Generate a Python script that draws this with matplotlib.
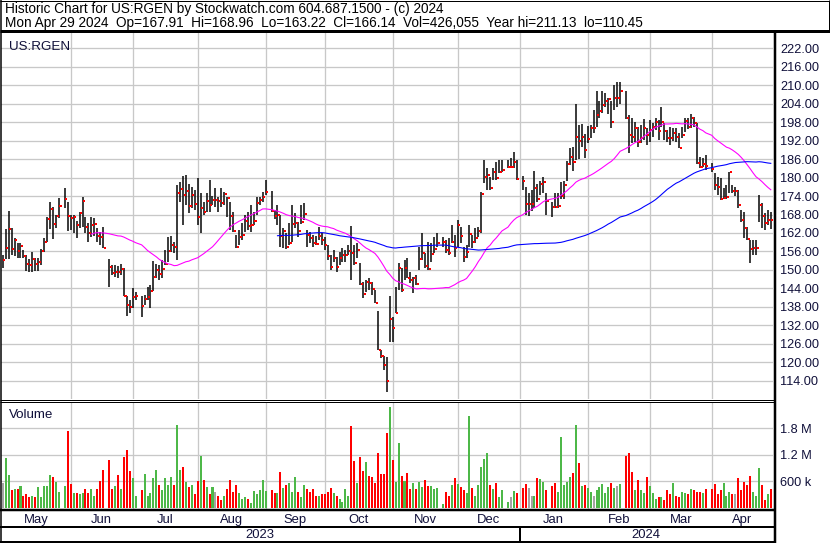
import numpy as np
import pandas as pd
import matplotlib
matplotlib.use("Agg")
import matplotlib.pyplot as plt

W, H = 830, 543

START = "2023-05-01"
END = "2024-04-29"
holidays = ["2023-05-29", "2023-06-19", "2023-07-04", "2023-09-04", "2023-11-23",
            "2023-12-25", "2024-01-01", "2024-01-15", "2024-02-19", "2024-03-29"]

highs = [
    # May
    155, 163.3, 169.1, 163.7, 160.5, 158.6, 158.6, 156.5, 155, 153.6,
    155.9, 153.8, 154, 156.8, 160.5, 167.3, 172, 170.5, 168, 173.3, 176.5, 172,
    # Jun
    167.8, 167.8, 165.9, 168.9, 173.8, 167.3, 165.1, 167.3, 166.8, 163.5,
    162.4, 164.1, 153.4, 151.6, 151.6, 151.4, 152, 150.5, 141.6, 140.2, 144,
    # Jul
    142.9, 141.6, 141.8, 144.6, 145.1, 153, 151.8, 151.6, 153.2, 156.5,
    160.8, 161.1, 159, 177.6, 178.7, 180.5, 180.8, 178, 177, 176,
    # Aug
    179.8, 174.9, 172.2, 174.9, 179.2, 174, 176.5, 173.8, 176.5, 175.2,
    173.8, 172.2, 168.9, 161.3, 163, 165.1, 167.8, 168.9, 171.1, 168.9, 173.8, 173.8, 175.4,
    # Sep
    179.2, 175.7, 169.5, 171.1, 167.8, 163.5, 161.9, 165.4, 171.1, 168.4,
    165.7, 171.1, 171.6, 163, 162.4, 161.3, 161, 164, 161.9, 160.8,
    # Oct
    158.1, 154.8, 156.5, 154.3, 155.9, 157, 156.5, 158.1, 164.3, 158.1,
    158.6, 152.1, 146.2, 146.7, 147.3, 146.2, 143.5, 136.6, 124, 122.1, 121.8, 141.6,
    # Nov
    134.8, 144.6, 152.1, 150.5, 153.2, 153.8, 149.4, 147.8, 148.4, 157.5,
    161.9, 155.4, 159.2, 158.6, 160.8, 161.9, 160.8, 159.7, 160.5, 164.6, 161.3,
    # Dec
    166.2, 164, 157.5, 158.1, 164.6, 161.3, 163.5, 164, 175.4, 185.7,
    183, 180.3, 183, 185.2, 185.7, 185.7, 185.7, 186.2, 188.4, 185.7,
    # Jan
    180.5, 177, 175, 176, 182, 178, 179, 180.3, 175, 172.2,
    175, 175, 178.7, 179, 185.5, 189.5, 190, 204, 197, 197.5, 194,
    # Feb
    196.9, 197.1, 202, 208.2, 205, 208, 207.5, 206, 205, 210,
    210.9, 211.13, 208, 200.3, 199.3, 198.2, 196.5, 197.1, 198.9, 196,
    # Mar
    198.7, 197.8, 199.5, 198.7, 203, 197.8, 195.5, 196.5, 196, 196,
    194.4, 196.5, 199.3, 199.3, 200.5, 199.8, 197.6, 186.8, 186.5, 187.3,
    # Apr
    184.6, 181.4, 180.3, 179.8, 176.5, 177.6, 181.9, 177.6, 177, 176,
    169.5, 168.9, 164, 159.7, 159.7, 159.7, 174.3, 171.6, 168.4, 169.5, 168.96,
]

lows = [
    # May
    150.6, 153.6, 153.6, 154.8, 154.5, 153.8, 154, 154, 149.7, 149.4,
    149.4, 149.7, 149.7, 151.6, 155.7, 159, 163.3, 160, 163.7, 166.8, 170, 162.8,
    # Jun
    163, 161.9, 160.5, 163.5, 164.1, 161.9, 159.2, 160.8, 161, 159.2,
    158.1, 157, 144.6, 148.4, 147.8, 147.5, 148.5, 141.4, 135.1, 135.9, 137.5,
    # Jul
    140.2, 134.8, 138.6, 140.2, 137.5, 143, 147.3, 146.7, 147.3, 151.6,
    152.7, 155.7, 155.5, 153.2, 172.2, 164.6, 171, 168.4, 170, 169.5,
    # Aug
    164.6, 161.9, 167.8, 168.9, 168.9, 171, 170.5, 168.9, 170.5, 171.1,
    167.3, 163, 162.4, 157, 158.1, 159.7, 162.4, 163, 162.4, 164.6, 167.8, 171.1, 172.2,
    # Sep
    174.4, 168.9, 166.5, 164.6, 157.3, 157, 156.7, 158.1, 159.2, 163.5,
    160.8, 164.9, 166.2, 157.6, 158.6, 157.6, 158.1, 159.7, 158.1, 156.5,
    # Oct
    153.2, 150, 152.7, 149.4, 151.6, 152.7, 152.7, 154.8, 146.7, 151.6,
    153.8, 145, 140.8, 142.9, 143.5, 141.8, 139.2, 124, 121.3, 117.5, 110.45, 126.7,
    # Nov
    126.7, 135.9, 143.5, 142.9, 146.7, 147.3, 145.6, 142.4, 145.1, 150,
    153.2, 150.5, 150, 152.7, 155.4, 157.5, 157.5, 155.4, 155, 158.6, 154.3,
    # Dec
    157.5, 158.6, 152.7, 153.8, 157.5, 157, 158.6, 160.8, 161.9, 178.1,
    176, 176, 179.2, 179.2, 181.4, 181.9, 183, 183, 183, 179.2,
    # Jan
    176, 168, 167.5, 169, 170, 172, 174.3, 175, 168, 167.3,
    170, 170, 173, 173, 179, 184, 182, 185.7, 186, 190, 186.3,
    # Feb
    191.1, 192.8, 194.4, 196.5, 199.5, 201, 203, 200.5, 196, 202,
    203, 204, 199, 187.9, 191.1, 191.7, 190, 191.1, 192.2, 190.6,
    # Mar
    191.7, 193.3, 195.5, 192.2, 196.5, 192.2, 191.7, 190.6, 192, 191.7,
    189.5, 192.8, 194.9, 195.7, 196, 196.5, 184.3, 183, 183.6, 182.5,
    # Apr
    181.9, 176, 174.4, 172.7, 173.2, 173, 174.9, 174.9, 174, 170,
    165.7, 160.3, 159.7, 152.1, 154.9, 154.9, 165.7, 163.5, 162.9, 164.6, 163.22,
]

closes = [
    # May
    153.3, 157, 163.2, 156.8, 159.8, 156.3, 157.7, 154.6, 152, 151.7,
    153.6, 151.8, 152.6, 156.2, 159.2, 166.7, 169.9, 165, 167.6, 170.9, 173.2, 167.6,
    # Jun
    167, 167.3, 164.7, 168.6, 172.5, 164.1, 162, 164.6, 165, 161.1,
    160.7, 157.2, 151.1, 149.1, 149.4, 149.2, 150.4, 141.6, 138.7, 138, 141.2,
    # Jul
    141.6, 138.4, 140.5, 141.3, 143.3, 147.8, 150, 148.7, 150.3, 152,
    156.2, 158.1, 157.3, 175.1, 176.3, 174.3, 175.7, 170.8, 174.3, 171.3,
    # Aug
    167.1, 170.2, 168.9, 172.5, 171.1, 172.8, 172.8, 172.5, 171.9, 174.8,
    173.5, 167.5, 162.6, 157.4, 160.8, 161.3, 166, 164.4, 164.6, 165.9, 171.9, 172.6, 173.6,
    # Sep
    175.4, 169.1, 167.5, 167.9, 161.1, 162.7, 157.5, 158.8, 165, 165.2,
    162.7, 165.5, 168.2, 161.3, 160.5, 158.9, 158.5, 161, 159.7, 158,
    # Oct
    154.5, 151, 154, 151, 154, 154.8, 155, 156.2, 155.4, 152.4,
    156.5, 145.4, 142.2, 146, 145.8, 143.7, 139.4, 124, 122.1, 119.1, 114, 134,
    # Nov
    131.2, 136.1, 150.5, 143.5, 150.5, 147.5, 146.7, 147.3, 145.4, 153.7,
    155.6, 151.3, 150.4, 155.2, 156.9, 158.8, 159.1, 156.5, 155.5, 159.1, 157,
    # Dec
    164.7, 161, 154.3, 155.7, 161.7, 159.2, 160.5, 162.6, 174.7, 180.3,
    180.8, 176.6, 181.9, 180, 181.9, 182.5, 183.5, 183.5, 185.2, 179.5,
    # Jan
    179, 171.4, 171.4, 171.4, 176.7, 172.9, 178, 178.6, 172.5, 170.5,
    170.3, 170.8, 174, 177.5, 184.3, 186.8, 185.2, 193.3, 192, 193.3, 189,
    # Feb
    192.6, 196, 196, 200.3, 201.7, 203.6, 205, 205.5, 198.2, 206,
    206, 208.2, 199.5, 193.8, 193.3, 196.2, 191.7, 193, 196, 193.8,
    # Mar
    195.5, 196.5, 198.2, 195.1, 198.2, 195.1, 193, 192.8, 194.4, 193.3,
    189.7, 193.8, 198.5, 196.5, 199.5, 197.6, 184.8, 183.5, 184.3, 183.9,
    # Apr
    182.8, 177.6, 177, 173, 173.5, 173.8, 181.7, 175.6, 175.6, 171.1,
    166.2, 163.5, 160, 156.8, 157, 157.2, 171.1, 167.6, 165.4, 166.3, 166.14,
]

# millions of shares
volumes = [
    # May
    0.57, 1.12, 0.74, 0.40, 0.42, 0.42, 0.49, 0.26, 0.32, 0.25,
    0.28, 0.24, 0.47, 0.24, 0.49, 0.49, 0.74, 0.70, 0.58, 0.35, 0.49, 1.74,
    # Jun
    0.54, 0.33, 0.33, 0.31, 0.33, 0.42, 0.34, 0.42, 0.28, 0.42,
    0.61, 0.86, 1.09, 0.42, 0.49, 0.74, 0.43, 1.16, 1.30, 0.84, 0.68,
    # Jul
    0.28, 0.40, 0.77, 0.28, 0.34, 0.68, 0.86, 0.51, 0.40, 0.68,
    0.51, 0.71, 0.51, 1.88, 0.86, 0.93, 0.58, 0.47, 0.51, 0.31,
    # Aug
    0.61, 1.18, 0.63, 0.47, 0.31, 0.47, 0.35, 0.28, 0.19, 0.26,
    0.42, 0.63, 0.35, 0.51, 0.33, 0.21, 0.24, 0.21, 0.12, 0.38, 0.31, 0.40, 0.63,
    # Sep
    0.38, 0.40, 0.33, 0.33, 0.81, 0.44, 0.51, 0.56, 0.35, 0.70,
    0.35, 0.24, 0.51, 0.42, 0.35, 0.42, 0.28, 0.26, 0.31, 0.31,
    # Oct
    0.35, 0.44, 0.33, 0.28, 0.21, 0.14, 0.42, 0.28, 1.85, 1.07,
    0.56, 1.14, 0.84, 1.04, 0.72, 0.70, 0.56, 1.23, 0.77, 0.77, 1.69, 2.28,
    # Nov
    1.09, 0.58, 1.46, 0.72, 0.61, 0.79, 0.42, 0.56, 0.42, 0.58,
    0.47, 0.63, 0.49, 0.49, 0.42, 0.45, 0.10, 0.35, 0.28, 0.51, 0.68,
    # Dec
    0.54, 0.47, 0.41, 0.33, 2.08, 0.45, 0.26, 0.51, 0.93, 1.11,
    1.25, 0.51, 0.42, 0.56, 0.24, 0.40, 0.14, 0.24, 0.38, 0.33,
    # Jan
    0.45, 0.54, 0.45, 0.28, 0.27, 0.68, 0.65, 0.58, 0.40, 0.49,
    0.56, 0.35, 1.60, 0.51, 0.58, 0.70, 0.79, 1.88, 1.02, 0.49, 0.51,
    # Feb
    0.45, 0.35, 0.26, 0.40, 0.47, 0.54, 0.33, 0.47, 0.56, 0.45,
    0.49, 0.54, 1.18, 1.25, 0.81, 0.40, 0.63, 0.40, 0.33, 0.70,
    # Mar
    0.49, 0.33, 0.21, 0.24, 0.24, 0.17, 0.40, 0.31, 0.56, 0.26,
    0.24, 0.35, 0.33, 0.31, 0.42, 0.40, 0.35, 0.35, 0.33, 0.42,
    # Apr
    0.43, 0.54, 0.31, 0.40, 0.56, 0.26, 0.35, 0.31, 0.31, 0.67,
    0.40, 0.58, 0.52, 0.72, 0.35, 0.26, 0.91, 0.51, 0.19, 0.31, 0.426,
]

month_names = ["May", "Jun", "Jul", "Aug", "Sep", "Oct", "Nov", "Dec", "Jan", "Feb", "Mar", "Apr"]
price_ticks = list(range(114, 223, 6))
vol_ticks = [0.6, 1.2, 1.8]
vol_labels = ["600 k", "1.2 M", "1.8 M"]

title1 = "Historic Chart for US:RGEN by Stockwatch.com 604.687.1500 - (c) 2024"
title2 = ("Mon Apr 29 2024  Op=167.91  Hi=168.96  Lo=163.22  Cl=166.14  "
          "Vol=426,055  Year hi=211.13  lo=110.45")

# trading days on a weekday axis, holidays leave an empty slot
days = np.arange(np.datetime64(START), np.datetime64(END) + 1)
days = days[np.is_busday(days, holidays=holidays)]
pos = np.busday_count(START, days)

highs = np.array(highs)
lows = np.array(lows)
closes = np.array(closes)
volumes = np.array(volumes)

ma_fast = pd.Series(closes).rolling(30).mean()
ma_slow = pd.Series(closes).rolling(90).mean()

chg = np.diff(closes, prepend=np.nan)
GREEN, RED, GRAY = "#4db848", "#ff0000", "#a4a4a4"
vcol = np.where(chg > 0, GREEN, np.where(chg < 0, RED, GRAY))

# month boundaries: first of month, rolled back to a weekday
firsts = pd.date_range("2023-06-01", "2024-04-01", freq="MS").values.astype("datetime64[D]")
grid_x = np.busday_count(START, np.busday_offset(firsts, 0, roll="backward"))

XL = (-0.6, 260.75)
GRID = "#c8c8c8"
PX = 0.72  # one pixel in points
plt.rcParams["font.family"] = ["Liberation Sans", "DejaVu Sans"]
TXT = "#10103a"

fig = plt.figure(figsize=(W / 100, H / 100), dpi=100)


def box(x0, y0, x1, y1):
    return [x0 / W, 1 - y1 / H, (x1 - x0) / W, (y1 - y0) / H]


# price panel
ax = fig.add_axes(box(1, 32, 773, 399))
ax.set_xlim(*XL)
ax.set_ylim(108.06, 227.3)
for g in grid_x:
    ax.axvline(g, color=GRID, lw=1.3 * PX, zorder=0)
for p in price_ticks:
    ax.axhline(p, color=GRID, lw=1.3 * PX, zorder=0)
ax.vlines(pos, lows, highs, color="black", lw=1.5 * PX, zorder=2)
ax.hlines(closes, pos + 0.2, pos + 0.9, color="red", lw=2.0 * PX, zorder=3)
ax.plot(pos, ma_fast, color="#ff00ff", lw=1.1 * PX, zorder=4)
ax.plot(pos, ma_slow, color="#0000ff", lw=1.1 * PX, zorder=4)
ax.yaxis.tick_right()
ax.set_yticks(price_ticks)
ax.set_yticklabels([f"{p:.2f}" for p in price_ticks], fontsize=9.2, color=TXT)
ax.tick_params(axis="y", length=0, pad=5)
ax.set_xticks([])
for s in ax.spines.values():
    s.set_visible(False)
ax.text(0.01, 0.975, "US:RGEN", transform=ax.transAxes, fontsize=9.6,
        va="top", ha="left", color=TXT)

# volume panel
axv = fig.add_axes(box(1, 402, 773, 509))
axv.set_xlim(*XL)
axv.set_ylim(-0.0226, 2.391)
for g in grid_x:
    axv.axvline(g, color=GRID, lw=1.3 * PX, zorder=0)
for v in vol_ticks:
    axv.axhline(v, color=GRID, lw=1.3 * PX, zorder=0)
axv.bar(pos, volumes, width=0.68, color=vcol, zorder=2)
axv.yaxis.tick_right()
axv.set_yticks(vol_ticks)
axv.set_yticklabels(vol_labels, fontsize=9.2, color=TXT)
axv.tick_params(axis="y", length=0, pad=5)
axv.set_xticks([])
for s in axv.spines.values():
    s.set_visible(False)
axv.text(0.01, 0.93, "Volume", transform=axv.transAxes, fontsize=9.6,
         va="top", ha="left", color=TXT)

# month strip
edges = np.concatenate([[XL[0]], grid_x, [XL[1]]])
axm = fig.add_axes(box(1, 511, 773, 527))
axm.set_xlim(*XL)
axm.set_ylim(0, 1)
axm.axis("off")
for name, a, b in zip(month_names, edges[:-1], edges[1:]):
    axm.text((a + b) / 2, 0.45, name, ha="center", va="center", fontsize=9.4, color=TXT)

# year strip
jan = grid_x[7]
axy = fig.add_axes(box(1, 528, 773, 541))
axy.set_xlim(*XL)
axy.set_ylim(0, 1)
axy.axis("off")
axy.text((XL[0] + jan) / 2, 0.45, "2023", ha="center", va="center", fontsize=9.4, color=TXT)
axy.text((jan + XL[1]) / 2, 0.45, "2024", ha="center", va="center", fontsize=9.4, color=TXT)
axy.axvline(jan, color="black", lw=2 * PX)

# frame and header
ov = fig.add_axes([0, 0, 1, 1], zorder=10)
ov.set_xlim(0, W)
ov.set_ylim(H, 0)
ov.axis("off")
ov.patch.set_alpha(0)
k = dict(color="black", solid_capstyle="butt")
ov.plot([0, W], [0.5, 0.5], lw=1 * PX, **k)
ov.plot([828.5, 828.5], [0, 31], lw=1 * PX, **k)
ov.plot([0, W], [30.7, 30.7], lw=3 * PX, **k)
ov.plot([0.5, 0.5], [0, H], lw=1.5 * PX, **k)
ov.plot([0, 774], [399.6, 399.6], lw=1 * PX, **k)
ov.plot([0, 774], [401.6, 401.6], lw=1 * PX, **k)
ov.plot([0, 774], [510.2, 510.2], lw=2.5 * PX, **k)
ov.plot([0, 774], [527.2, 527.2], lw=2 * PX, **k)
ov.plot([0, 774], [541.6, 541.6], lw=2 * PX, **k)
ov.plot([774.5, 774.5], [31, H], lw=2.5 * PX, **k)
ov.text(5, 9, title1, fontsize=9.85, va="center", ha="left", color="black")
ov.text(5, 23, title2, fontsize=9.85, va="center", ha="left", color="black")

fig.savefig("out.png", dpi=100)
